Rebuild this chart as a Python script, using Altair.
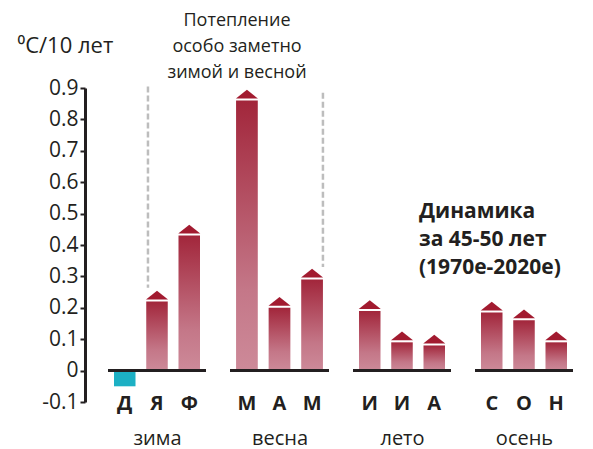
import altair as alt
import pandas as pd

# ---- data ----
months = ["Декабрь", "Январь", "Февраль", "Март", "Апрель", "Май",
          "Июнь", "Июль", "Август", "Сентябрь", "Октябрь", "Ноябрь"]
seasons = ["зима", "зима", "зима", "весна", "весна", "весна",
           "лето", "лето", "лето", "осень", "осень", "осень"]
trend = [-0.05, 0.22, 0.43, 0.86, 0.20, 0.29, 0.19, 0.09, 0.08, 0.185, 0.16, 0.09]
season_order = ["зима", "весна", "лето", "осень"]
y_ticks = [-0.1, 0.0, 0.1, 0.2, 0.3, 0.4, 0.5, 0.6, 0.7, 0.8, 0.9]
y_title = "⁰C/10 лет"
note_warming = ["Потепление", "особо заметно", "зимой и весной"]
note_period = ["Динамика", "за 45-50 лет", "(1970е-2020е)"]

df = pd.DataFrame({"month": months, "season": seasons, "trend": trend})

FONT = "Open Sans"
DARK = "#231f20"
bar_gradient = alt.Gradient(
    gradient="linear",
    stops=[alt.GradientStop(color="#a2263b", offset=0),
           alt.GradientStop(color="#c47788", offset=0.7),
           alt.GradientStop(color="#cd8a99", offset=1)],
    x1=0, x2=0, y1=0, y2=1,
)
yscale = alt.Scale(domain=[-0.1, 0.9], nice=False, zero=False)


def panel(season, first=False):
    sub = df[df.season == season]
    order = list(sub.month)
    x = alt.X("month:N", sort=order,
              scale=alt.Scale(paddingInner=0.333, paddingOuter=0.186),
              axis=alt.Axis(title=season, labelExpr="substring(datum.label, 0, 1)",
                            domain=False, ticks=False, labelAngle=0,
                            labelFont=FONT, labelFontWeight="bold", labelFontSize=20,
                            labelColor=DARK, labelBaseline="middle", labelPadding=1,
                            titleFont=FONT, titleFontWeight="normal", titleFontSize=20,
                            titleColor=DARK, titleBaseline="alphabetic", titleY=42))
    if first:
        yaxis = alt.Axis(values=y_ticks, tickCount=len(y_ticks), title=y_title, offset=23,
                         labelOverlap=False,
                         labelExpr="datum.value == 0 ? '0' : (datum.value < 0 ? '-' : '') + format(abs(datum.value), '.1f')",
                         labelFont=FONT, labelFontSize=21, labelColor=DARK, labelPadding=2,
                         domainColor=DARK, domainWidth=3, tickColor=DARK, tickWidth=2, tickSize=5,
                         titleFont=FONT, titleFontSize=22, titleFontWeight="normal", titleColor=DARK,
                         titleAngle=0, titleAlign="left", titleBaseline="alphabetic",
                         titleX=-68, titleY=-36)
    else:
        yaxis = None
    y = alt.Y("trend:Q", scale=yscale, axis=yaxis)
    base = alt.Chart(sub)
    pos = base.transform_filter("datum.trend > 0").mark_bar(color=bar_gradient).encode(x=x, y=y)
    neg = base.transform_filter("datum.trend < 0").mark_bar(color="#1cb0c4").encode(x=x, y=y)
    caps = base.transform_filter("datum.trend > 0").mark_point(
        shape="M-1,0L1,0L0,-0.8Z", size=484, filled=True, opacity=1,
        color="#a21b30", strokeWidth=0, yOffset=-2).encode(x=x, y=y)
    zero = base.mark_rule(color=DARK, strokeWidth=3).encode(y=alt.datum(0))
    return [pos, neg, caps, zero]


one = pd.DataFrame({"k": [0]})

l1 = panel("зима", first=True)
dash1 = alt.Chart(one).mark_rule(color="#bdbdbd", strokeWidth=2.5, strokeDash=[6, 3]).encode(
    x=alt.X(datum="Январь", type="nominal", bandPosition=0.08),
    y=alt.Y(datum=0.905, type="quantitative", scale=yscale), y2=alt.datum(0.264))
p1 = alt.layer(*l1, dash1).properties(width=98, height=314)

l2 = panel("весна")
dash2 = alt.Chart(one).mark_rule(color="#bdbdbd", strokeWidth=2.5, strokeDash=[6, 3]).encode(
    x=alt.X(datum="Май", type="nominal", bandPosition=1.0),
    y=alt.Y(datum=0.885, type="quantitative", scale=yscale), y2=alt.datum(0.33))
warm = alt.Chart(one).mark_text(text=note_warming, font=FONT, fontSize=18, color=DARK,
                                align="center", baseline="alphabetic", lineHeight=26).encode(
    x=alt.value(7), y=alt.value(-62))
p2 = alt.layer(*l2, dash2, warm).properties(width=99, height=314)

l3 = panel("лето")
period = alt.Chart(one).mark_text(text=note_period, font=FONT, fontSize=21, fontWeight="bold",
                                  color=DARK, align="left", baseline="alphabetic",
                                  lineHeight=28).encode(x=alt.value(66), y=alt.value(130))
p3 = alt.layer(*l3, period).properties(width=98, height=314)

l4 = panel("осень")
p4 = alt.layer(*l4).properties(width=98, height=314)

chart = (alt.hconcat(p1, p2, p3, p4, spacing=24, bounds="flush")
         .properties(padding={"left": 9, "top": 4, "right": 5, "bottom": 6})
         .configure_view(stroke=None)
         .configure_axis(grid=False))

chart.save("out.html", embed_options={"renderer": "svg", "actions": False})
